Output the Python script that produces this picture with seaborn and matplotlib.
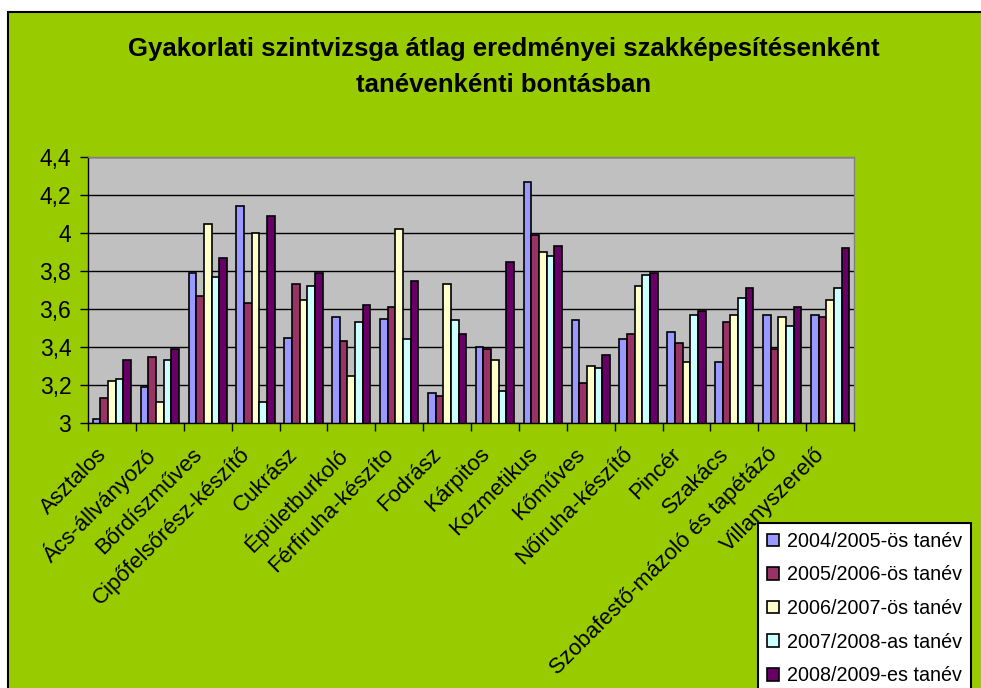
import matplotlib
matplotlib.use("Agg")
import matplotlib.pyplot as plt
import matplotlib.transforms as mtransforms
from matplotlib.patches import Rectangle
from matplotlib.ticker import FuncFormatter, FixedLocator
import pandas as pd
import seaborn as sns

sns.set_style("white")
plt.rcParams['font.family'] = ['Liberation Sans', 'DejaVu Sans']
plt.rcParams['text.color'] = 'black'
plt.rcParams['xtick.color'] = 'black'
plt.rcParams['ytick.color'] = 'black'

# Data
szakmak = ["Asztalos", "Ács-állványozó", "Bőrdíszműves", "Cipőfelsőrész-készítő",
           "Cukrász", "Épületburkoló", "Férfiruha-készíto", "Fodrász", "Kárpitos",
           "Kozmetikus", "Kőműves", "Nőiruha-készítő", "Pincér", "Szakács",
           "Szobafestő-mázoló és tapétázó", "Villanyszerelő"]
tanevek = ["2004/2005-ös tanév", "2005/2006-ös tanév", "2006/2007-ös tanév",
           "2007/2008-as tanév", "2008/2009-es tanév"]
ev_2004 = [3.02, 3.19, 3.79, 4.14, 3.45, 3.56, 3.55, 3.16, 3.40, 4.27, 3.54, 3.44, 3.48, 3.32, 3.57, 3.57]
ev_2005 = [3.13, 3.35, 3.67, 3.63, 3.73, 3.43, 3.61, 3.14, 3.39, 3.99, 3.21, 3.47, 3.42, 3.53, 3.39, 3.56]
ev_2006 = [3.22, 3.11, 4.05, 4.00, 3.65, 3.25, 4.02, 3.73, 3.33, 3.90, 3.30, 3.72, 3.32, 3.57, 3.56, 3.65]
ev_2007 = [3.23, 3.33, 3.77, 3.11, 3.72, 3.53, 3.44, 3.54, 3.17, 3.88, 3.29, 3.78, 3.57, 3.66, 3.51, 3.71]
ev_2008 = [3.33, 3.39, 3.87, 4.09, 3.79, 3.62, 3.75, 3.47, 3.85, 3.93, 3.36, 3.79, 3.59, 3.71, 3.61, 3.92]
szinek = ["#9999FF", "#993366", "#FFFFCC", "#CCFFFF", "#660066"]

rows = []
for tanev, ertekek in zip(tanevek, [ev_2004, ev_2005, ev_2006, ev_2007, ev_2008]):
    for szakma, v in zip(szakmak, ertekek):
        rows.append({"szakma": szakma, "tanev": tanev, "atlag": v})
df = pd.DataFrame(rows)

W, H = 981, 688
fig = plt.figure(figsize=(W / 100, H / 100), dpi=100, facecolor="white")

# green chart area with black frame (cut off at right/bottom)
fig.patches.append(Rectangle((8 / W, -0.05), 1.1, 1.05 - 12 / H, transform=fig.transFigure,
                             facecolor="#99CC00", edgecolor="black", linewidth=1.5, zorder=-5))

ax = fig.add_axes([88 / W, (H - 423) / H, (854 - 88) / W, (423 - 157) / H])
ax.set_facecolor("#C0C0C0")

sns.barplot(data=df, x="szakma", y="atlag", hue="tanev", palette=szinek, saturation=1,
            edgecolor="black", linewidth=1.2, width=0.8, ax=ax)

handles, labels = ax.get_legend_handles_labels()
ax.get_legend().remove()

ax.set_ylim(3, 4.4)
ax.set_xlim(-0.5, len(szakmak) - 0.5)
ax.set_yticks([3, 3.2, 3.4, 3.6, 3.8, 4, 4.2, 4.4])
ax.yaxis.set_major_formatter(FuncFormatter(lambda v, p: f"{v:g}".replace(".", ",")))
ax.set_axisbelow(True)
ax.yaxis.grid(True, color="black", linewidth=1.0)
ax.set_xlabel("")
ax.set_ylabel("")

for s in ["top", "right"]:
    ax.spines[s].set_color("#808080")
    ax.spines[s].set_linewidth(1.0)
for s in ["left", "bottom"]:
    ax.spines[s].set_color("black")
    ax.spines[s].set_linewidth(1.0)

ax.tick_params(axis="y", direction="out", length=6, width=1, color="black", pad=6,
               left=True, labelsize=16.5)
ax.xaxis.set_minor_locator(FixedLocator([i - 0.5 for i in range(len(szakmak) + 1)]))
ax.tick_params(axis="x", which="minor", direction="out", length=6, width=1, color="black", bottom=True)
ax.tick_params(axis="x", which="major", length=0, pad=15, labelsize=16)
ax.set_xticks(range(len(szakmak)))
ax.set_xticklabels(szakmak, rotation=45, ha="right", va="top", rotation_mode="anchor")
offset = mtransforms.ScaledTranslation(-0.16, 0, fig.dpi_scale_trans)
for lab in ax.get_xticklabels():
    lab.set_transform(lab.get_transform() + offset)

fig.text(504 / W, 1 - 67 / H,
         "Gyakorlati szintvizsga átlag eredményei szakképesítésenként\ntanévenkénti bontásban",
         ha="center", va="center", fontsize=18.5, fontweight="bold", linespacing=1.65)

leg = fig.legend(handles, labels, loc="upper left", bbox_to_anchor=(758 / W, 1 - 523 / H),
                 borderaxespad=0, frameon=True, fancybox=False, framealpha=1,
                 edgecolor="black", facecolor="white", fontsize=14.2,
                 handlelength=0.6, handleheight=0.6, handletextpad=0.4,
                 labelspacing=0.74, borderpad=0.45)
leg.get_frame().set_linewidth(1.5)

fig.savefig("out.png", dpi=100, facecolor="white")
